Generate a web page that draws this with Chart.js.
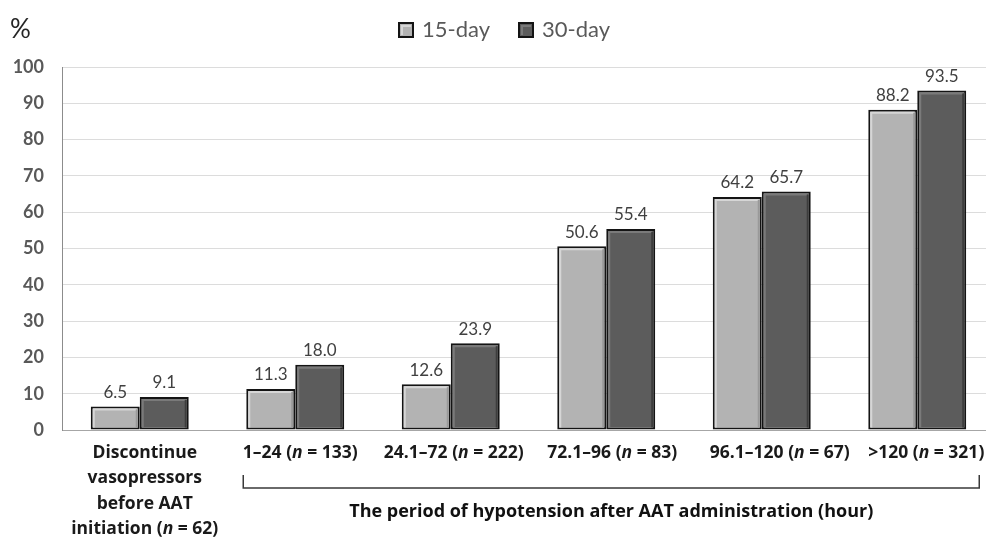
<!DOCTYPE html>
<html>
<head>
<meta charset="utf-8">
<script src="https://cdn.jsdelivr.net/npm/chart.js@4.4.1/dist/chart.umd.min.js"></script>
<style>
html,body{margin:0;padding:0;background:#fff;overflow:hidden;}
#wrap{position:absolute;left:0;top:0;width:1000px;height:539px;}
</style>
</head>
<body>
<div id="wrap"><canvas id="c" width="1000" height="539"></canvas></div>
<script>
// ---- data ----
const categories = [
  ["Discontinue", "vasopressors", "before AAT", "initiation (*n* = 62)"],
  ["1\u201324 (*n* = 133)"],
  ["24.1\u201372 (*n* = 222)"],
  ["72.1\u201396 (*n* = 83)"],
  ["96.1\u2013120 (*n* = 67)"],
  [">120 (*n* = 321)"]
];
const seriesNames = ["15-day", "30-day"];
const values15 = [6.5, 11.3, 12.6, 50.6, 64.2, 88.2];
const values30 = [9.1, 18.0, 23.9, 55.4, 65.7, 93.5];
const yMin = 0, yMax = 100, yStep = 10;
const yUnit = "%";
const groupTitle = "The period of hypotension after AAT administration (hour)";

// ---- style ----
const FONT = "Lato";
const LFONT = "'Open Sans'";
const fill15 = "#b3b3b3", fill30 = "#5c5c5c", edge = "#141414";
const bevels = [["#d6d6d6", "#999999"], ["#7a7a7a", "#3d3d3d"]];
const labelNudge = [5, 5, 3, 6, 18, 9];

function richWidth(ctx, text, size, weight, fam) {
  const parts = text.split("*");
  let w = 0;
  parts.forEach((p, i) => {
    ctx.font = (i % 2 ? "italic " : "") + weight + " " + size + "px " + fam;
    w += ctx.measureText(p).width;
  });
  return w;
}
function drawRich(ctx, text, cx, cy, size, weight, color, fam) {
  const parts = text.split("*");
  let x = cx - richWidth(ctx, text, size, weight, fam) / 2;
  ctx.fillStyle = color;
  ctx.textBaseline = "middle";
  ctx.textAlign = "left";
  parts.forEach((p, i) => {
    ctx.font = (i % 2 ? "italic " : "") + weight + " " + size + "px " + fam;
    ctx.fillText(p, x, cy);
    x += ctx.measureText(p).width;
  });
}
function bevel(ctx, l, t, r, b, light, dark) {
  ctx.save();
  ctx.lineWidth = 2;
  ctx.strokeStyle = light;
  ctx.beginPath();
  ctx.moveTo(l + 3, b); ctx.lineTo(l + 3, t + 3); ctx.lineTo(r - 3, t + 3);
  ctx.stroke();
  ctx.strokeStyle = dark;
  ctx.beginPath();
  ctx.moveTo(r - 3, t + 3); ctx.lineTo(r - 3, b);
  ctx.stroke();
  ctx.restore();
}

const decor = {
  id: "decor",
  afterDatasetsDraw(chart) {
    const ctx = chart.ctx;
    chart.data.datasets.forEach((ds, di) => {
      const meta = chart.getDatasetMeta(di);
      meta.data.forEach((bar) => {
        const l = bar.x - bar.width / 2, r = bar.x + bar.width / 2;
        bevel(ctx, l, bar.y, r, bar.base - 2, bevels[di][0], bevels[di][1]);
      });
    });
  },
  afterDraw(chart) {
    const ctx = chart.ctx;
    const xs = chart.scales.x;
    const area = chart.chartArea;
    ctx.save();
    // value labels
    chart.data.datasets.forEach((ds, di) => {
      const meta = chart.getDatasetMeta(di);
      meta.data.forEach((bar, i) => {
        ctx.font = "17px " + FONT;
        ctx.fillStyle = "#404040";
        ctx.textAlign = "center";
        ctx.textBaseline = "middle";
        ctx.fillText(ds.data[i].toFixed(1), bar.x, bar.y - 14);
      });
    });
    // category labels
    categories.forEach((lines, i) => {
      const cx = xs.getPixelForValue(i) + labelNudge[i];
      lines.forEach((ln, k) => {
        drawRich(ctx, ln, cx, area.bottom + 23 + k * 25.5, 17.5, "bold", "#1a1a1a", LFONT);
      });
    });
    // bracket
    const bl = xs.getPixelForValue(1) - 52;
    const br = xs.getPixelForValue(5) + 62;
    const by = area.bottom + 58;
    ctx.strokeStyle = "#3a3a3a";
    ctx.lineWidth = 1.5;
    ctx.beginPath();
    ctx.moveTo(bl, by - 13); ctx.lineTo(bl, by); ctx.lineTo(br, by); ctx.lineTo(br, by - 13);
    ctx.stroke();
    ctx.font = "bold 18px " + LFONT;
    ctx.fillStyle = "#111";
    ctx.textAlign = "center";
    ctx.textBaseline = "middle";
    ctx.fillText(groupTitle, (bl + br) / 2, area.bottom + 82);
    // unit
    ctx.font = "26px " + FONT;
    ctx.fillStyle = "#262626";
    ctx.textAlign = "left";
    ctx.fillText(yUnit, 10, 30);
    // legend
    const legX = [398, 518];
    chart.data.datasets.forEach((ds, di) => {
      const x = legX[di], y = 22;
      ctx.fillStyle = edge;
      ctx.fillRect(x, y, 16, 16);
      ctx.fillStyle = ds.backgroundColor;
      ctx.fillRect(x + 2, y + 2, 12, 12);
      ctx.fillStyle = bevels[di][0];
      ctx.fillRect(x + 3, y + 3, 10, 2);
      ctx.fillRect(x + 3, y + 3, 2, 10);
      ctx.font = "22px " + FONT;
      ctx.fillStyle = "#595959";
      ctx.textAlign = "left";
      ctx.textBaseline = "middle";
      ctx.fillText(ds.label, x + 24, y + 8);
    });
    ctx.restore();
  }
};

new Chart(document.getElementById("c"), {
  type: "bar",
  data: {
    labels: categories.map(l => l.join(" ").replace(/\*/g, "")),
    datasets: [
      { label: seriesNames[0], data: values15, backgroundColor: fill15, borderColor: edge, borderWidth: 2, borderSkipped: false },
      { label: seriesNames[1], data: values30, backgroundColor: fill30, borderColor: edge, borderWidth: 2, borderSkipped: false }
    ]
  },
  options: {
    responsive: false,
    animation: false,
    layout: { padding: { top: 67, right: 5, left: 0, bottom: 0 } },
    datasets: { bar: { categoryPercentage: 0.63, barPercentage: 1.0 } },
    plugins: { legend: { display: false }, tooltip: { enabled: false } },
    scales: {
      x: {
        ticks: { display: false },
        grid: { display: false },
        border: { color: "#a6a6a6", width: 1 },
        afterFit(s) { s.height = 109; }
      },
      y: {
        min: yMin, max: yMax,
        ticks: { stepSize: yStep, color: "#595959", font: { family: FONT, size: 18, weight: "bold" }, padding: 18 },
        grid: { color: "#dcdcdc", drawTicks: false },
        border: { color: "#8c8c8c", width: 1 },
        afterFit(s) { s.width = 62; }
      }
    }
  },
  plugins: [decor]
});
</script>
</body>
</html>
